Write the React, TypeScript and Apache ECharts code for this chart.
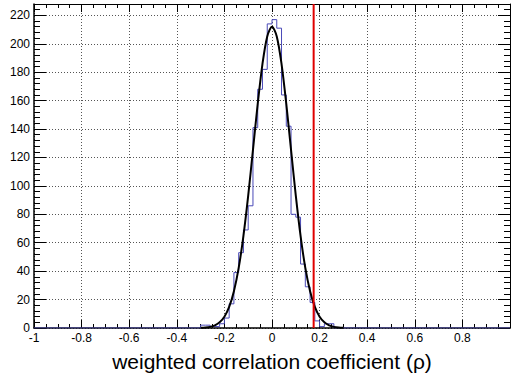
import React, { useEffect, useRef } from "react";
import * as echarts from "echarts";

// Histogram: left edges of 0.02-wide bins and their counts
const binWidth = 0.02;
const binLeft = [
  -0.30, -0.28, -0.26, -0.24, -0.22, -0.20, -0.18, -0.16, -0.14, -0.12,
  -0.10, -0.08, -0.06, -0.04, -0.02, 0.0, 0.02, 0.04, 0.06, 0.08,
  0.10, 0.12, 0.14, 0.16, 0.18, 0.20, 0.22, 0.24,
];
const counts = [
  2, 2, 1, 1, 3, 7, 17, 39, 53, 69,
  86, 141, 168, 182, 214, 217, 211, 164, 142, 80,
  78, 45, 29, 18, 5, 1, 3, 3,
];

const fitX = [
  -0.30, -0.28, -0.26, -0.24, -0.22, -0.20, -0.18, -0.16, -0.14, -0.12,
  -0.10, -0.08, -0.06, -0.04, -0.02, 0.0, 0.02, 0.04, 0.06, 0.08,
  0.10, 0.12, 0.14, 0.16, 0.18, 0.20, 0.22, 0.24, 0.26, 0.28, 0.30,
];
const fitY = [
  0.1, 0.3, 0.8, 1.9, 4.0, 7.9, 14.8, 25.9, 42.3, 64.9,
  93.2, 125.3, 157.7, 185.9, 205.2, 212, 205.2, 185.9, 157.7, 125.3,
  93.2, 64.9, 42.3, 25.9, 14.8, 7.9, 4.0, 1.9, 0.8, 0.3, 0.1,
];

// Observed value (red line)
const observedRho = 0.175;

const xMin = -1;
const xMax = 1;
const yMin = 0;
const yMax = 228;

const FONT = "'Liberation Sans', Arial, Helvetica, sans-serif";

export default function App() {
  const ref = useRef<HTMLDivElement>(null);

  useEffect(() => {
    if (!ref.current) return;
    const chart = echarts.init(ref.current, undefined, { renderer: "svg" });

    const histPts: number[][] = [[xMin, 0]];
    binLeft.forEach((x, i) => histPts.push([x, counts[i]]));
    histPts.push([binLeft[binLeft.length - 1] + binWidth, 0]);
    histPts.push([xMax, 0]);

    const fitPts = fitX.map((x, i) => [x, fitY[i]]);

    const gridLine = { show: true, lineStyle: { color: "#555", type: [1, 2] as any, width: 1 } };

    chart.setOption({
      animation: false,
      grid: { left: 34, right: 1, top: 4, bottom: 53, containLabel: false },
      xAxis: [
        {
          type: "value",
          min: xMin,
          max: xMax,
          interval: 0.2,
          axisLine: { show: true, onZero: false, lineStyle: { color: "#000", width: 1.5 } },
          axisTick: { show: true, inside: true, length: 8, lineStyle: { color: "#000" } },
          minorTick: { show: true, splitNumber: 4, length: 4, lineStyle: { color: "#000" } },
          splitLine: gridLine,
          axisLabel: {
            show: true,
            margin: 4,
            fontSize: 12,
            color: "#000",
            fontFamily: FONT,
            showMaxLabel: false,
            formatter: (v: number) => String(Math.round(v * 10) / 10),
          },
          name: "weighted correlation coefficient (\u03c1)",
          nameLocation: "middle",
          nameGap: 23,
          nameTextStyle: { fontSize: 21, color: "#000", fontFamily: FONT },
        },
        {
          type: "value",
          position: "top",
          min: xMin,
          max: xMax,
          interval: 0.2,
          axisLine: { show: true, onZero: false, lineStyle: { color: "#000", width: 1 } },
          axisTick: { show: true, inside: true, length: 8, lineStyle: { color: "#000" } },
          minorTick: { show: true, splitNumber: 4, length: 4, lineStyle: { color: "#000" } },
          splitLine: { show: false },
          axisLabel: { show: false },
        },
      ],
      yAxis: [
        {
          type: "value",
          min: yMin,
          max: yMax,
          interval: 20,
          axisLine: { show: true, onZero: false, lineStyle: { color: "#000", width: 1.5 } },
          axisTick: { show: true, inside: true, length: 12, lineStyle: { color: "#000" } },
          minorTick: { show: true, splitNumber: 5, length: 6, lineStyle: { color: "#000" } },
          splitLine: gridLine,
          axisLabel: {
            show: true,
            margin: 4,
            fontSize: 12,
            color: "#000",
            fontFamily: FONT,
            showMaxLabel: false,
          },
        },
        {
          type: "value",
          position: "right",
          min: yMin,
          max: yMax,
          interval: 20,
          axisLine: { show: true, onZero: false, lineStyle: { color: "#000", width: 1 } },
          axisTick: { show: true, inside: true, length: 12, lineStyle: { color: "#000" } },
          minorTick: { show: true, splitNumber: 5, length: 6, lineStyle: { color: "#000" } },
          splitLine: { show: false },
          axisLabel: { show: false },
        },
      ],
      series: [
        {
          type: "line",
          name: "histogram",
          data: histPts,
          step: "end",
          showSymbol: false,
          symbol: "none",
          lineStyle: { color: "#4a4ab8", width: 1 },
          z: 2,
        },
        {
          type: "line",
          name: "fit",
          data: fitPts,
          smooth: 0.3,
          showSymbol: false,
          symbol: "none",
          lineStyle: { color: "#000", width: 2 },
          z: 3,
        },
        {
          type: "line",
          name: "observed",
          data: [
            [observedRho, yMin],
            [observedRho, yMax],
          ],
          showSymbol: false,
          symbol: "none",
          lineStyle: { color: "#e00000", width: 2 },
          z: 4,
        },
      ],
    });

    return () => chart.dispose();
  }, []);

  return (
    <div
      ref={ref}
      style={{ position: "fixed", left: 0, top: 0, width: 511, height: 381, background: "#fff" }}
    />
  );
}
